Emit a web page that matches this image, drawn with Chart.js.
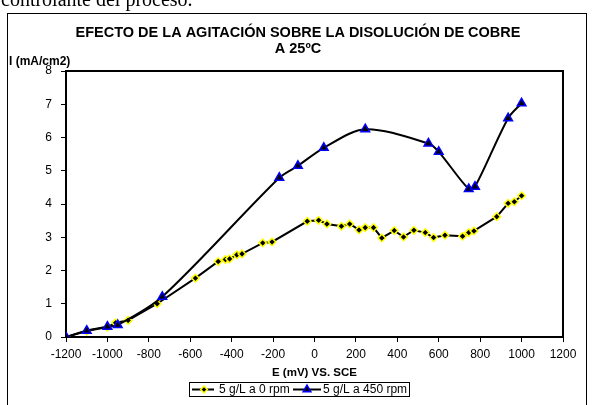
<!DOCTYPE html>
<html>
<head>
<meta charset="utf-8">
<title>Efecto de la agitación</title>
<script src="https://cdn.jsdelivr.net/npm/chart.js"></script>
<style>
  html, body { margin: 0; padding: 0; background: #fff; }
</style>
</head>
<body>
<canvas id="myChart" width="596" height="405"></canvas>
<script>
// chart texts
const pageText = "controlante del proceso.";
const chartTitle = ["EFECTO DE LA AGITACIÓN SOBRE LA DISOLUCIÓN DE COBRE", "A 25ºC"];
const yTitle = "I (mA/cm2)";
const xTitle = "E (mV) VS. SCE";
const seriesNames = ["5 g/L a 0 rpm", "5 g/L a 450 rpm"];

// axis ranges (tick labels come from these)
const xTicks = [-1200, 1200, 200];
const yTicks = [0, 8, 1];

// 5 g/L a 0 rpm
const potential0 = [-1200, -1100, -1000, -960, -900, -760, -575, -465, -430, -410, -375, -350,
  -250, -205, -35, 20, 60, 130, 170, 215, 245, 285, 325, 385, 430, 480, 535, 575, 630,
  715, 745, 770, 880, 935, 965, 1000];
const current0 = [0, 0.18, 0.3, 0.43, 0.5, 1.0, 1.77, 2.27, 2.33, 2.35, 2.47, 2.5,
  2.83, 2.86, 3.48, 3.51, 3.4, 3.33, 3.4, 3.22, 3.29, 3.29, 2.98, 3.2, 3.01, 3.21, 3.14, 2.99, 3.06,
  3.03, 3.14, 3.19, 3.62, 4.02, 4.07, 4.25];

// 5 g/L a 450 rpm
const potential450 = [-1200, -1100, -1000, -950, -735, -170, -80, 45, 245, 550, 600, 745, 775, 935, 1000];
const current450 = [0, 0.19, 0.31, 0.36, 1.21, 4.79, 5.15, 5.69, 6.25, 5.82, 5.57, 4.45, 4.52, 6.58, 7.03];

function toPoints(xs, ys) {
  return xs.map((x, i) => ({ x: x, y: ys[i] }));
}

function diamond(ctx, x, y, r) {
  ctx.beginPath();
  ctx.moveTo(x - r, y);
  ctx.lineTo(x, y - r);
  ctx.lineTo(x + r, y);
  ctx.lineTo(x, y + r);
  ctx.closePath();
}

function triangle(ctx, x, y, r) {
  ctx.beginPath();
  ctx.moveTo(x, y - r);
  ctx.lineTo(x + r * 0.866, y + r * 0.5);
  ctx.lineTo(x - r * 0.866, y + r * 0.5);
  ctx.closePath();
}

// frame, titles and legend box
const decor = {
  id: "decor",
  beforeDraw(chart) {
    const ctx = chart.ctx;
    ctx.save();
    ctx.fillStyle = "#fff";
    ctx.fillRect(0, 0, chart.width, chart.height);
    ctx.fillStyle = "#000";
    ctx.font = "20px 'Liberation Serif'";
    ctx.textBaseline = "alphabetic";
    ctx.textAlign = "left";
    ctx.fillText(pageText, 1, 6);
    ctx.strokeStyle = "#000";
    ctx.lineWidth = 1;
    ctx.strokeRect(7.5, 13.5, 579, 420);
    ctx.restore();
  },
  beforeDatasetsDraw(chart) {
    const ctx = chart.ctx;
    const a = chart.chartArea;
    ctx.save();
    ctx.strokeStyle = "#000";
    ctx.lineWidth = 2;
    ctx.strokeRect(a.left, a.top, a.right - a.left, a.bottom - a.top);
    ctx.restore();
  },
  afterDraw(chart) {
    const ctx = chart.ctx;
    const a = chart.chartArea;
    ctx.save();
    ctx.fillStyle = "#000";
    ctx.textBaseline = "middle";
    ctx.textAlign = "center";
    ctx.font = "bold 14.5px 'Liberation Sans'";
    ctx.fillText(chartTitle[0], 298, 33);
    ctx.fillText(chartTitle[1], 298, 49);

    ctx.textAlign = "left";
    ctx.font = "bold 12px 'Liberation Sans'";
    ctx.fillText(yTitle, 9, 62);

    ctx.textAlign = "center";
    ctx.font = "bold 11.5px 'Liberation Sans'";
    ctx.fillText(xTitle, (a.left + a.right) / 2, 373);

    // legend
    ctx.strokeStyle = "#000";
    ctx.lineWidth = 1;
    ctx.strokeRect(189.5, 382.5, 220, 14);
    ctx.lineWidth = 2;
    ctx.beginPath();
    ctx.moveTo(192, 389.5); ctx.lineTo(214, 389.5);
    ctx.moveTo(293, 389.5); ctx.lineTo(321, 389.5);
    ctx.stroke();
    ctx.lineWidth = 1.5;
    diamond(ctx, 204, 389.5, 3.4);
    ctx.fillStyle = "#000"; ctx.fill();
    ctx.strokeStyle = "#ffff00"; ctx.stroke();
    triangle(ctx, 307, 389.5, 4.5);
    ctx.fillStyle = "#000"; ctx.fill();
    ctx.strokeStyle = "#0000ff"; ctx.stroke();
    ctx.fillStyle = "#000";
    ctx.textAlign = "left";
    ctx.font = "12px 'Liberation Sans'";
    ctx.fillText(seriesNames[0], 219, 390);
    ctx.fillText(seriesNames[1], 323, 390);
    ctx.restore();
  }
};

const tickFont = { family: "'Liberation Sans'", size: 12 };

const ctx = document.getElementById("myChart");
const myChart = new Chart(ctx, {
  type: "scatter",
  data: {
    datasets: [
      {
        label: seriesNames[0],
        data: toPoints(potential0, current0),
        showLine: true,
        borderColor: "#000",
        borderWidth: 2,
        tension: 0,
        pointStyle: "rectRot",
        pointRadius: 3.8,
        pointBorderWidth: 1.5,
        pointBackgroundColor: "#000",
        pointBorderColor: "#ffff00",
        order: 1
      },
      {
        label: seriesNames[1],
        data: toPoints(potential450, current450),
        showLine: true,
        borderColor: "#000",
        borderWidth: 2,
        tension: 0.3,
        pointStyle: "triangle",
        pointRadius: 5,
        pointBorderWidth: 1.5,
        pointBackgroundColor: "#000",
        pointBorderColor: "#0000ff",
        order: 0
      }
    ]
  },
  options: {
    responsive: false,
    animation: false,
    layout: { padding: { left: 36, top: 71, right: 33, bottom: 28 } },
    plugins: {
      legend: { display: false },
      title: { display: false },
      tooltip: { enabled: false }
    },
    scales: {
      x: {
        type: "linear",
        min: xTicks[0],
        max: xTicks[1],
        ticks: {
          stepSize: xTicks[2],
          color: "#000",
          font: tickFont,
          padding: 5,
          maxRotation: 0,
          autoSkip: false,
          callback: (value) => String(value)
        },
        grid: { drawOnChartArea: false, drawTicks: true, tickLength: 5, color: "#000", lineWidth: 1 },
        border: { display: true, color: "#000", width: 2 },
        afterFit: (scale) => { scale.height = 40; }
      },
      y: {
        min: yTicks[0],
        max: yTicks[1],
        ticks: {
          stepSize: yTicks[2],
          color: "#000",
          font: tickFont,
          padding: 9
        },
        grid: { drawOnChartArea: false, drawTicks: true, tickLength: 5, color: "#000", lineWidth: 1 },
        border: { display: true, color: "#000", width: 2 },
        afterFit: (scale) => { scale.width = 30; }
      }
    }
  },
  plugins: [decor]
});
</script>
</body>
</html>
